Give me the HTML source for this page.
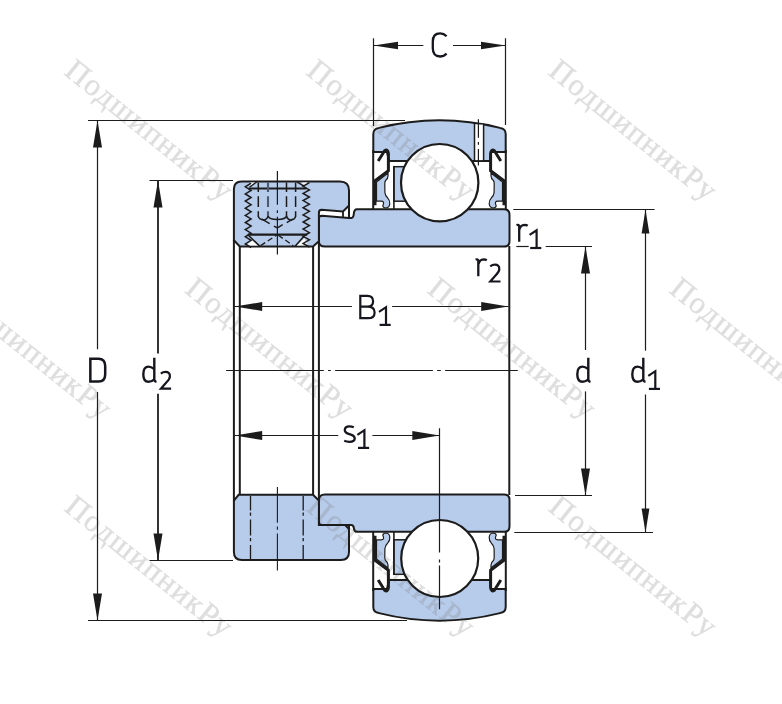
<!DOCTYPE html>
<html><head><meta charset="utf-8"><style>
html,body{margin:0;padding:0;background:#fff;width:782px;height:704px;overflow:hidden;}
svg{display:block;}

</style></head><body><svg width="782" height="704" viewBox="0 0 782 704"><defs><mask id="wmm" maskUnits="userSpaceOnUse" x="0" y="0" width="782" height="704"><rect x="0" y="0" width="782" height="704" fill="#fff"/><g id="tophalfM"><path d="M373.3,152 L373.3,134 Q373.3,128.6 379,127.9 A250,250 0 0 1 500,127.9 Q505.7,128.6 505.7,134 L505.7,152 L491,152 L490,161 L389,161 L387,152 Z" fill="#fff" stroke="#1c1c1c" stroke-width="2"/><line x1="373.2" y1="150.0" x2="373.2" y2="209.0" stroke="#1c1c1c" stroke-width="2.00" /><line x1="505.8" y1="150.0" x2="505.8" y2="209.0" stroke="#1c1c1c" stroke-width="2.00" /><path d="M376.5,182 L388,173 L388,176 Q388,178.5 385.6,180.5 Q384.7,181.5 384.8,184 L384.9,192.5 Q385.1,195.5 387.6,197.8 Q390,200.2 389.8,203.8 Q389.4,207.8 386,208 Q383,208 382.8,205.8 Q383.9,203.6 383.5,202.2 Q383,201.1 381,201.1 L376.5,201.1 Z" fill="#fff" stroke="#1c1c1c" stroke-width="1.2"/><path d="M378.2,161 L384.6,150.8 Q387.8,148.6 388.4,153.5 L388.4,170.8 L375,180.7 L375,205.3" fill="none" stroke="#1c1c1c" stroke-width="3"/><rect x="393.9" y="166.7" width="14" height="34.5" fill="#fff" stroke="#1c1c1c" stroke-width="1.5"/><line x1="393.9" y1="166.0" x2="393.9" y2="209.0" stroke="#1c1c1c" stroke-width="1.60" /><g transform="matrix(-1 0 0 1 879 0)"><path d="M376.5,182 L388,173 L388,176 Q388,178.5 385.6,180.5 Q384.7,181.5 384.8,184 L384.9,192.5 Q385.1,195.5 387.6,197.8 Q390,200.2 389.8,203.8 Q389.4,207.8 386,208 Q383,208 382.8,205.8 Q383.9,203.6 383.5,202.2 Q383,201.1 381,201.1 L376.5,201.1 Z" fill="#fff" stroke="#1c1c1c" stroke-width="1.2"/><path d="M378.2,161 L384.6,150.8 Q387.8,148.6 388.4,153.5 L388.4,170.8 L375,180.7 L375,205.3" fill="none" stroke="#1c1c1c" stroke-width="3"/></g></g><path d="M318.8,219 Q318.8,215.7 322,215.7 L349,217.9 L351.5,217.9 Q353.5,217.9 353.8,214 Q354,209.2 357,209.2 L504,209.2 Q509.5,209.2 509.5,214.7 L509.5,241 Q509.5,246.6 504,246.6 L325,246.6 Q318.8,246.6 318.8,240.4 Z" fill="#fff" stroke="#1c1c1c" stroke-width="2"/><circle cx="439.7" cy="182.7" r="38.7" fill="#fff" stroke="#1c1c1c" stroke-width="2.2"/><use href="#tophalfM" transform="matrix(1 0 0 -1 0 741)"/><path d="M318.8,500.8 Q318.8,494.6 325,494.6 L504,494.6 Q509.5,494.6 509.5,500 L509.5,526.3 Q509.5,531.8 504,531.8 L357.5,531.8 Q354.2,531.8 353.9,528.3 Q353.6,525 351,525 L322,525 Q318.8,525 318.8,521.8 Z" fill="#fff" stroke="#1c1c1c" stroke-width="2"/><circle cx="439.7" cy="558.5" r="38.5" fill="#fff" stroke="#1c1c1c" stroke-width="2.2"/><rect x="474.5" y="124.6" width="9.1" height="35.5" fill="#fff"/><path d="M474.5,123 L474.5,161 M483.6,123.5 L483.6,161" stroke="#1c1c1c" stroke-width="1.5"/><line x1="478.4" y1="119.3" x2="478.4" y2="165.4" stroke="#1c1c1c" stroke-width="1.20" stroke-dasharray="18.4,4.3,2.7,4.3,30"/><path d="M233.9,189 Q233.9,181.4 241.5,181.4 L340,181.4 Q349,181.4 349,190.5 L349,205.5 L343,211.5 L321.5,209.8 Q318.9,209.8 318.9,213 L318.9,241.3 L313,246.4 L239.8,246.4 L233.9,240.3 Z" fill="#fff" stroke="#1c1c1c" stroke-width="2"/><line x1="349.0" y1="205.5" x2="349.0" y2="218.0" stroke="#1c1c1c" stroke-width="2.00" /><line x1="343.0" y1="211.5" x2="343.0" y2="217.3" stroke="#1c1c1c" stroke-width="1.80" /><path d="M250,182.6 L256.3,182.6 L251.2,186.2 Z M301.2,182.6 L307.6,182.6 L305.3,185.8 Z" fill="#fff"/><path d="M246.2,245.6 L252.4,240.4 L258.6,245.6 Z M296.6,245.6 L304.4,238.4 L307.6,245.6 Z" fill="#fff"/><polyline points="251.1,183.2 245.3,186.8 251.1,190.4 245.3,193.9 251.1,197.5 245.3,201.1 251.1,204.7 245.3,208.2 251.1,211.8 245.3,215.4 251.1,218.9 245.3,222.5 251.1,226.1 245.3,229.6 251.1,233.2 245.3,236.8 251.1,240.3 245.3,243.9 251.1,247.5" fill="none" stroke="#1c1c1c" stroke-width="1.5" stroke-linejoin="miter"/><polyline points="309.4,182.7 303.1,186.3 309.4,189.9 303.1,193.4 309.4,197.0 303.1,200.6 309.4,204.2 303.1,207.7 309.4,211.3 303.1,214.9 309.4,218.4 303.1,222.0 309.4,225.6 303.1,229.1 309.4,232.7 303.1,236.3 309.4,239.8 303.1,243.4 309.4,247.0" fill="none" stroke="#1c1c1c" stroke-width="1.5" stroke-linejoin="miter"/><line x1="248.4" y1="188.5" x2="306.4" y2="188.5" stroke="#1c1c1c" stroke-width="2.20" /><line x1="247.8" y1="234.6" x2="307.2" y2="234.6" stroke="#1c1c1c" stroke-width="2.20" /><path d="M249.6,187.2 L256.8,181.8 M296.8,181.8 L304,186.2" fill="none" stroke="#1c1c1c" stroke-width="1.4"/><path d="M248.6,235.5 L259.7,246.2 M304.2,236 L295.1,246.2" fill="none" stroke="#1c1c1c" stroke-width="1.6"/><path d="M260.6,245.6 L276.5,235.2 M278.3,235.2 L293.2,245.6" fill="none" stroke="#1c1c1c" stroke-width="1.3" stroke-dasharray="5.5,3"/><line x1="258.3" y1="182.5" x2="258.3" y2="216.6" stroke="#1c1c1c" stroke-width="1.5" stroke-dasharray="9.5,4.2,10.7,4.3,20"/><line x1="268.0" y1="182.5" x2="268.0" y2="216.6" stroke="#4d5b70" stroke-width="2.1" stroke-dasharray="9.5,4.2,10.7,4.3,20"/><line x1="286.5" y1="182.5" x2="286.5" y2="216.6" stroke="#1c1c1c" stroke-width="1.5" stroke-dasharray="9.5,4.2,10.7,4.3,20"/><line x1="295.6" y1="182.5" x2="295.6" y2="216.6" stroke="#1c1c1c" stroke-width="1.5" stroke-dasharray="9.5,4.2,10.7,4.3,20"/><path d="M258.3,216 Q258.5,219.5 264.2,219.9 M268,216 Q267.5,219.5 263.2,220.2 M268,216 Q269,219.4 277.4,219.4 Q285.8,219.4 286.5,216 M295.6,216 Q295.4,219.5 290.6,219.9 M286.5,216 Q287.2,219.5 291.6,220.2" fill="none" stroke="#1c1c1c" stroke-width="1.5"/><path d="M262,219.2 L269.7,223.6 M292.8,219.2 L286.7,222.6" fill="none" stroke="#1c1c1c" stroke-width="1.5"/><path d="M273.9,226.1 L277.4,227.9 L282.7,224.7" fill="none" stroke="#1c1c1c" stroke-width="1.5"/><line x1="277.4" y1="171.1" x2="277.4" y2="254.6" stroke="#1c1c1c" stroke-width="1.2" stroke-dasharray="33.7,5.5,2.6,3.8,50"/><path d="M238.6,494.8 L313,494.8 L318.9,500.5 L318.9,525 L345.2,525 L349,529.2 L349,552 Q349,560 341,560 L241.9,560 Q233.9,560 233.9,552 L233.9,500.5 Z" fill="#fff" stroke="#1c1c1c" stroke-width="2"/><line x1="349.0" y1="524.0" x2="349.0" y2="530.0" stroke="#1c1c1c" stroke-width="2.00" /><line x1="250.5" y1="495.9" x2="250.5" y2="559.0" stroke="#1c1c1c" stroke-width="1.30" stroke-dasharray="14.7,1.9,3.2,3.8,16,2.5,3.2,3.8,14"/><line x1="303.2" y1="495.9" x2="303.2" y2="559.0" stroke="#1c1c1c" stroke-width="1.30" stroke-dasharray="14.7,1.9,3.2,3.8,16,2.5,3.2,3.8,14"/><line x1="277.4" y1="487.0" x2="277.4" y2="570.6" stroke="#1c1c1c" stroke-width="1.10" stroke-dasharray="35.7,3.8,3.2,3.8,40"/><line x1="233.9" y1="240.0" x2="233.9" y2="500.8" stroke="#1c1c1c" stroke-width="2.00" /><line x1="239.8" y1="246.0" x2="239.8" y2="495.0" stroke="#1c1c1c" stroke-width="2.00" /><line x1="313.1" y1="246.0" x2="313.1" y2="495.0" stroke="#1c1c1c" stroke-width="2.00" /><line x1="318.9" y1="241.0" x2="318.9" y2="500.5" stroke="#1c1c1c" stroke-width="2.00" /><line x1="509.3" y1="246.0" x2="509.3" y2="495.0" stroke="#1c1c1c" stroke-width="2.00" /><line x1="226.1" y1="370.5" x2="517.8" y2="370.5" stroke="#1c1c1c" stroke-width="1.20" stroke-dasharray="97.7,4.2,2.8,4.3,97.8,4.2,3.7,4.3,80"/><line x1="88.0" y1="120.5" x2="405.0" y2="120.5" stroke="#1c1c1c" stroke-width="1.20" /><line x1="88.0" y1="620.5" x2="407.0" y2="620.5" stroke="#1c1c1c" stroke-width="1.20" /><line x1="97.5" y1="120.5" x2="97.5" y2="349.3" stroke="#1c1c1c" stroke-width="1.20" /><line x1="97.5" y1="392.0" x2="97.5" y2="620.5" stroke="#1c1c1c" stroke-width="1.20" /><polygon points="97.5,120.5 93.0,147.5 102.0,147.5" fill="#1c1c1c"/><polygon points="97.5,620.5 93.0,593.5 102.0,593.5" fill="#1c1c1c"/><line x1="149.5" y1="180.5" x2="233.0" y2="180.5" stroke="#1c1c1c" stroke-width="1.20" /><line x1="149.5" y1="560.5" x2="233.0" y2="560.5" stroke="#1c1c1c" stroke-width="1.20" /><line x1="158.0" y1="180.5" x2="158.0" y2="353.4" stroke="#1c1c1c" stroke-width="1.80" /><line x1="158.0" y1="393.7" x2="158.0" y2="560.5" stroke="#1c1c1c" stroke-width="1.80" /><polygon points="158.0,180.5 153.5,207.5 162.5,207.5" fill="#1c1c1c"/><polygon points="158.0,560.5 153.5,533.5 162.5,533.5" fill="#1c1c1c"/><line x1="373.5" y1="38.3" x2="373.5" y2="126.0" stroke="#1c1c1c" stroke-width="1.20" /><line x1="505.5" y1="38.3" x2="505.5" y2="125.0" stroke="#1c1c1c" stroke-width="1.20" /><line x1="373.5" y1="45.5" x2="423.4" y2="45.5" stroke="#1c1c1c" stroke-width="1.20" /><line x1="453.0" y1="45.5" x2="505.5" y2="45.5" stroke="#1c1c1c" stroke-width="1.20" /><polygon points="373.5,45.5 398.0,41.7 398.0,49.3" fill="#1c1c1c"/><polygon points="505.5,45.5 481.0,41.7 481.0,49.3" fill="#1c1c1c"/><line x1="513.3" y1="209.5" x2="654.6" y2="209.5" stroke="#1c1c1c" stroke-width="1.20" /><line x1="514.3" y1="532.5" x2="653.0" y2="532.5" stroke="#1c1c1c" stroke-width="1.20" /><line x1="645.5" y1="209.5" x2="645.5" y2="350.7" stroke="#1c1c1c" stroke-width="1.20" /><line x1="645.5" y1="394.5" x2="645.5" y2="532.5" stroke="#1c1c1c" stroke-width="1.20" /><polygon points="645.5,209.5 641.6,233.5 649.4,233.5" fill="#1c1c1c"/><polygon points="645.5,532.5 641.6,508.5 649.4,508.5" fill="#1c1c1c"/><line x1="516.3" y1="246.5" x2="528.7" y2="246.5" stroke="#1c1c1c" stroke-width="1.20" /><line x1="545.7" y1="246.5" x2="592.0" y2="246.5" stroke="#1c1c1c" stroke-width="1.20" /><line x1="515.0" y1="495.5" x2="592.0" y2="495.5" stroke="#1c1c1c" stroke-width="1.20" /><line x1="585.5" y1="246.5" x2="585.5" y2="350.0" stroke="#1c1c1c" stroke-width="1.20" /><line x1="585.5" y1="391.4" x2="585.5" y2="495.5" stroke="#1c1c1c" stroke-width="1.20" /><polygon points="585.5,246.5 581.0,273.5 590.0,273.5" fill="#1c1c1c"/><polygon points="585.5,495.5 581.0,468.5 590.0,468.5" fill="#1c1c1c"/><line x1="234.5" y1="306.5" x2="351.9" y2="306.5" stroke="#1c1c1c" stroke-width="1.20" /><line x1="392.1" y1="306.5" x2="508.5" y2="306.5" stroke="#1c1c1c" stroke-width="1.20" /><polygon points="234.8,306.5 262.2,302.1 262.2,310.9" fill="#1c1c1c"/><polygon points="508.3,306.5 481.2,302.1 481.2,310.9" fill="#1c1c1c"/><line x1="234.5" y1="435.5" x2="338.3" y2="435.5" stroke="#1c1c1c" stroke-width="1.20" /><line x1="372.4" y1="435.5" x2="439.5" y2="435.5" stroke="#1c1c1c" stroke-width="1.20" /><polygon points="234.8,435.5 262.2,431.0 262.2,440.0" fill="#1c1c1c"/><polygon points="439.5,435.5 412.3,431.0 412.3,440.0" fill="#1c1c1c"/><line x1="439.5" y1="428.3" x2="439.5" y2="609.2" stroke="#1c1c1c" stroke-width="1.20" stroke-dasharray="124.3,6.9,3,3,60"/><path d="M446.6,36.2 Q443.8,33.3 440.2,33.3 Q432.8,33.3 432.8,41.5 L432.8,48.3 Q432.8,56.5 440.2,56.5 Q443.8,56.5 446.6,53.6" fill="none" stroke="#16161f" stroke-width="2.30"/><path d="M90.35,358.7 L98.5,358.7 Q105.2,358.7 105.2,366 L105.2,374.3 Q105.2,381.6 98.5,381.6 L90.35,381.6 Z" fill="none" stroke="#16161f" stroke-width="2.50"/><path d="M154.30,357.7 L154.30,379.6 Q154.30,381.5 156.50,381.9" fill="none" stroke="#16161f" stroke-width="2.40"/><path d="M154.30,369 Q150.80,366.6 148.60,366.6 Q143.30,366.6 143.30,374.2 Q143.30,381.8 148.60,381.8 Q151.30,381.8 154.30,379.3" fill="none" stroke="#16161f" stroke-width="2.40"/><path d="M160.80,373.60 Q163.00,371.90 165.50,371.90 Q169.90,371.90 169.90,376.30 Q169.90,379.10 166.50,382.30 L160.90,388.70 L171.10,388.70" fill="none" stroke="#16161f" stroke-width="2.20"/><path d="M588.30,357.7 L588.30,379.6 Q588.30,381.5 590.50,381.9" fill="none" stroke="#16161f" stroke-width="2.40"/><path d="M588.30,369 Q584.80,366.6 582.60,366.6 Q577.30,366.6 577.30,374.2 Q577.30,381.8 582.60,381.8 Q585.30,381.8 588.30,379.3" fill="none" stroke="#16161f" stroke-width="2.40"/><path d="M643.30,357.7 L643.30,379.6 Q643.30,381.5 645.50,381.9" fill="none" stroke="#16161f" stroke-width="2.40"/><path d="M643.30,369 Q639.80,366.6 637.60,366.6 Q632.30,366.6 632.30,374.2 Q632.30,381.8 637.60,381.8 Q640.30,381.8 643.30,379.3" fill="none" stroke="#16161f" stroke-width="2.40"/><path d="M648.30,375.80 L655.30,371.20 L655.30,388.90" fill="none" stroke="#16161f" stroke-width="2.20"/><path d="M648.90,388.90 L660.00,388.90" fill="none" stroke="#16161f" stroke-width="2.20"/><path d="M367.5,295.8 L360.3,295.8 L360.3,318.2 L368,318.2 Q374.6,318.2 374.6,312.4 Q374.6,306.7 367.5,306.7 L360.3,306.7 M367.5,306.7 Q373.1,306.7 373.1,301.25 Q373.1,295.8 367.5,295.8" fill="none" stroke="#16161f" stroke-width="2.20"/><path d="M379.00,311.80 L386.00,307.20 L386.00,324.90" fill="none" stroke="#16161f" stroke-width="2.20"/><path d="M379.60,324.90 L390.70,324.90" fill="none" stroke="#16161f" stroke-width="2.20"/><path d="M353.8,427.3 Q351.5,426.3 349.3,426.3 Q344.8,426.3 344.8,430 Q344.8,432.5 348,433.6 L351.5,434.8 Q354.7,436 354.7,438.5 Q354.7,441.8 349.5,441.8 Q346.5,441.8 344.2,440.8" fill="none" stroke="#16161f" stroke-width="2.30"/><path d="M357.40,434.80 L364.40,430.20 L364.40,447.90" fill="none" stroke="#16161f" stroke-width="2.20"/><path d="M358.00,447.90 L369.10,447.90" fill="none" stroke="#16161f" stroke-width="2.20"/><path d="M516.50,225.20 Q519.20,224.20 519.20,226.50 L519.20,241.70 M519.20,230.00 Q520.50,225.00 524.50,224.90 Q526.50,224.90 527.70,225.70" fill="none" stroke="#16161f" stroke-width="2.30"/><path d="M529.60,234.90 L536.60,230.30 L536.60,248.00" fill="none" stroke="#16161f" stroke-width="2.20"/><path d="M530.20,248.00 L541.30,248.00" fill="none" stroke="#16161f" stroke-width="2.20"/><path d="M475.60,259.70 Q478.30,258.70 478.30,261.00 L478.30,276.20 M478.30,264.50 Q479.60,259.50 483.60,259.40 Q485.60,259.40 486.80,260.20" fill="none" stroke="#16161f" stroke-width="2.30"/><path d="M490.20,266.40 Q492.40,264.70 494.90,264.70 Q499.30,264.70 499.30,269.10 Q499.30,271.90 495.90,275.10 L490.30,281.50 L500.50,281.50" fill="none" stroke="#16161f" stroke-width="2.20"/></mask></defs><g id="tophalf"><path d="M373.3,152 L373.3,134 Q373.3,128.6 379,127.9 A250,250 0 0 1 500,127.9 Q505.7,128.6 505.7,134 L505.7,152 L491,152 L490,161 L389,161 L387,152 Z" fill="#b7cbea" stroke="#1c1c1c" stroke-width="2"/><line x1="373.2" y1="150.0" x2="373.2" y2="209.0" stroke="#1c1c1c" stroke-width="2.00" /><line x1="505.8" y1="150.0" x2="505.8" y2="209.0" stroke="#1c1c1c" stroke-width="2.00" /><path d="M376.5,182 L388,173 L388,176 Q388,178.5 385.6,180.5 Q384.7,181.5 384.8,184 L384.9,192.5 Q385.1,195.5 387.6,197.8 Q390,200.2 389.8,203.8 Q389.4,207.8 386,208 Q383,208 382.8,205.8 Q383.9,203.6 383.5,202.2 Q383,201.1 381,201.1 L376.5,201.1 Z" fill="#b7cbea" stroke="#1c1c1c" stroke-width="1.2"/><path d="M378.2,161 L384.6,150.8 Q387.8,148.6 388.4,153.5 L388.4,170.8 L375,180.7 L375,205.3" fill="none" stroke="#1c1c1c" stroke-width="3"/><rect x="393.9" y="166.7" width="14" height="34.5" fill="#b7cbea" stroke="#1c1c1c" stroke-width="1.5"/><line x1="393.9" y1="166.0" x2="393.9" y2="209.0" stroke="#1c1c1c" stroke-width="1.60" /><g transform="matrix(-1 0 0 1 879 0)"><path d="M376.5,182 L388,173 L388,176 Q388,178.5 385.6,180.5 Q384.7,181.5 384.8,184 L384.9,192.5 Q385.1,195.5 387.6,197.8 Q390,200.2 389.8,203.8 Q389.4,207.8 386,208 Q383,208 382.8,205.8 Q383.9,203.6 383.5,202.2 Q383,201.1 381,201.1 L376.5,201.1 Z" fill="#b7cbea" stroke="#1c1c1c" stroke-width="1.2"/><path d="M378.2,161 L384.6,150.8 Q387.8,148.6 388.4,153.5 L388.4,170.8 L375,180.7 L375,205.3" fill="none" stroke="#1c1c1c" stroke-width="3"/></g></g><path d="M318.8,219 Q318.8,215.7 322,215.7 L349,217.9 L351.5,217.9 Q353.5,217.9 353.8,214 Q354,209.2 357,209.2 L504,209.2 Q509.5,209.2 509.5,214.7 L509.5,241 Q509.5,246.6 504,246.6 L325,246.6 Q318.8,246.6 318.8,240.4 Z" fill="#b7cbea" stroke="#1c1c1c" stroke-width="2"/><circle cx="439.7" cy="182.7" r="38.7" fill="#fff" stroke="#1c1c1c" stroke-width="2.2"/><use href="#tophalf" transform="matrix(1 0 0 -1 0 741)"/><path d="M318.8,500.8 Q318.8,494.6 325,494.6 L504,494.6 Q509.5,494.6 509.5,500 L509.5,526.3 Q509.5,531.8 504,531.8 L357.5,531.8 Q354.2,531.8 353.9,528.3 Q353.6,525 351,525 L322,525 Q318.8,525 318.8,521.8 Z" fill="#b7cbea" stroke="#1c1c1c" stroke-width="2"/><circle cx="439.7" cy="558.5" r="38.5" fill="#fff" stroke="#1c1c1c" stroke-width="2.2"/><rect x="474.5" y="124.6" width="9.1" height="35.5" fill="#fff"/><path d="M474.5,123 L474.5,161 M483.6,123.5 L483.6,161" stroke="#1c1c1c" stroke-width="1.5"/><line x1="478.4" y1="119.3" x2="478.4" y2="165.4" stroke="#1c1c1c" stroke-width="1.20" stroke-dasharray="18.4,4.3,2.7,4.3,30"/><path d="M233.9,189 Q233.9,181.4 241.5,181.4 L340,181.4 Q349,181.4 349,190.5 L349,205.5 L343,211.5 L321.5,209.8 Q318.9,209.8 318.9,213 L318.9,241.3 L313,246.4 L239.8,246.4 L233.9,240.3 Z" fill="#b7cbea" stroke="#1c1c1c" stroke-width="2"/><line x1="349.0" y1="205.5" x2="349.0" y2="218.0" stroke="#1c1c1c" stroke-width="2.00" /><line x1="343.0" y1="211.5" x2="343.0" y2="217.3" stroke="#1c1c1c" stroke-width="1.80" /><path d="M250,182.6 L256.3,182.6 L251.2,186.2 Z M301.2,182.6 L307.6,182.6 L305.3,185.8 Z" fill="#fff"/><path d="M246.2,245.6 L252.4,240.4 L258.6,245.6 Z M296.6,245.6 L304.4,238.4 L307.6,245.6 Z" fill="#fff"/><polyline points="251.1,183.2 245.3,186.8 251.1,190.4 245.3,193.9 251.1,197.5 245.3,201.1 251.1,204.7 245.3,208.2 251.1,211.8 245.3,215.4 251.1,218.9 245.3,222.5 251.1,226.1 245.3,229.6 251.1,233.2 245.3,236.8 251.1,240.3 245.3,243.9 251.1,247.5" fill="none" stroke="#1c1c1c" stroke-width="1.5" stroke-linejoin="miter"/><polyline points="309.4,182.7 303.1,186.3 309.4,189.9 303.1,193.4 309.4,197.0 303.1,200.6 309.4,204.2 303.1,207.7 309.4,211.3 303.1,214.9 309.4,218.4 303.1,222.0 309.4,225.6 303.1,229.1 309.4,232.7 303.1,236.3 309.4,239.8 303.1,243.4 309.4,247.0" fill="none" stroke="#1c1c1c" stroke-width="1.5" stroke-linejoin="miter"/><line x1="248.4" y1="188.5" x2="306.4" y2="188.5" stroke="#1c1c1c" stroke-width="2.20" /><line x1="247.8" y1="234.6" x2="307.2" y2="234.6" stroke="#1c1c1c" stroke-width="2.20" /><path d="M249.6,187.2 L256.8,181.8 M296.8,181.8 L304,186.2" fill="none" stroke="#1c1c1c" stroke-width="1.4"/><path d="M248.6,235.5 L259.7,246.2 M304.2,236 L295.1,246.2" fill="none" stroke="#1c1c1c" stroke-width="1.6"/><path d="M260.6,245.6 L276.5,235.2 M278.3,235.2 L293.2,245.6" fill="none" stroke="#1c1c1c" stroke-width="1.3" stroke-dasharray="5.5,3"/><line x1="258.3" y1="182.5" x2="258.3" y2="216.6" stroke="#1c1c1c" stroke-width="1.5" stroke-dasharray="9.5,4.2,10.7,4.3,20"/><line x1="268.0" y1="182.5" x2="268.0" y2="216.6" stroke="#4d5b70" stroke-width="2.1" stroke-dasharray="9.5,4.2,10.7,4.3,20"/><line x1="286.5" y1="182.5" x2="286.5" y2="216.6" stroke="#1c1c1c" stroke-width="1.5" stroke-dasharray="9.5,4.2,10.7,4.3,20"/><line x1="295.6" y1="182.5" x2="295.6" y2="216.6" stroke="#1c1c1c" stroke-width="1.5" stroke-dasharray="9.5,4.2,10.7,4.3,20"/><path d="M258.3,216 Q258.5,219.5 264.2,219.9 M268,216 Q267.5,219.5 263.2,220.2 M268,216 Q269,219.4 277.4,219.4 Q285.8,219.4 286.5,216 M295.6,216 Q295.4,219.5 290.6,219.9 M286.5,216 Q287.2,219.5 291.6,220.2" fill="none" stroke="#1c1c1c" stroke-width="1.5"/><path d="M262,219.2 L269.7,223.6 M292.8,219.2 L286.7,222.6" fill="none" stroke="#1c1c1c" stroke-width="1.5"/><path d="M273.9,226.1 L277.4,227.9 L282.7,224.7" fill="none" stroke="#1c1c1c" stroke-width="1.5"/><line x1="277.4" y1="171.1" x2="277.4" y2="254.6" stroke="#1c1c1c" stroke-width="1.2" stroke-dasharray="33.7,5.5,2.6,3.8,50"/><path d="M238.6,494.8 L313,494.8 L318.9,500.5 L318.9,525 L345.2,525 L349,529.2 L349,552 Q349,560 341,560 L241.9,560 Q233.9,560 233.9,552 L233.9,500.5 Z" fill="#b7cbea" stroke="#1c1c1c" stroke-width="2"/><line x1="349.0" y1="524.0" x2="349.0" y2="530.0" stroke="#1c1c1c" stroke-width="2.00" /><line x1="250.5" y1="495.9" x2="250.5" y2="559.0" stroke="#1c1c1c" stroke-width="1.30" stroke-dasharray="14.7,1.9,3.2,3.8,16,2.5,3.2,3.8,14"/><line x1="303.2" y1="495.9" x2="303.2" y2="559.0" stroke="#1c1c1c" stroke-width="1.30" stroke-dasharray="14.7,1.9,3.2,3.8,16,2.5,3.2,3.8,14"/><line x1="277.4" y1="487.0" x2="277.4" y2="570.6" stroke="#1c1c1c" stroke-width="1.10" stroke-dasharray="35.7,3.8,3.2,3.8,40"/><line x1="233.9" y1="240.0" x2="233.9" y2="500.8" stroke="#1c1c1c" stroke-width="2.00" /><line x1="239.8" y1="246.0" x2="239.8" y2="495.0" stroke="#1c1c1c" stroke-width="2.00" /><line x1="313.1" y1="246.0" x2="313.1" y2="495.0" stroke="#1c1c1c" stroke-width="2.00" /><line x1="318.9" y1="241.0" x2="318.9" y2="500.5" stroke="#1c1c1c" stroke-width="2.00" /><line x1="509.3" y1="246.0" x2="509.3" y2="495.0" stroke="#1c1c1c" stroke-width="2.00" /><line x1="226.1" y1="370.5" x2="517.8" y2="370.5" stroke="#1c1c1c" stroke-width="1.20" stroke-dasharray="97.7,4.2,2.8,4.3,97.8,4.2,3.7,4.3,80"/><line x1="88.0" y1="120.5" x2="405.0" y2="120.5" stroke="#1c1c1c" stroke-width="1.20" /><line x1="88.0" y1="620.5" x2="407.0" y2="620.5" stroke="#1c1c1c" stroke-width="1.20" /><line x1="97.5" y1="120.5" x2="97.5" y2="349.3" stroke="#1c1c1c" stroke-width="1.20" /><line x1="97.5" y1="392.0" x2="97.5" y2="620.5" stroke="#1c1c1c" stroke-width="1.20" /><polygon points="97.5,120.5 93.0,147.5 102.0,147.5" fill="#1c1c1c"/><polygon points="97.5,620.5 93.0,593.5 102.0,593.5" fill="#1c1c1c"/><line x1="149.5" y1="180.5" x2="233.0" y2="180.5" stroke="#1c1c1c" stroke-width="1.20" /><line x1="149.5" y1="560.5" x2="233.0" y2="560.5" stroke="#1c1c1c" stroke-width="1.20" /><line x1="158.0" y1="180.5" x2="158.0" y2="353.4" stroke="#1c1c1c" stroke-width="1.80" /><line x1="158.0" y1="393.7" x2="158.0" y2="560.5" stroke="#1c1c1c" stroke-width="1.80" /><polygon points="158.0,180.5 153.5,207.5 162.5,207.5" fill="#1c1c1c"/><polygon points="158.0,560.5 153.5,533.5 162.5,533.5" fill="#1c1c1c"/><line x1="373.5" y1="38.3" x2="373.5" y2="126.0" stroke="#1c1c1c" stroke-width="1.20" /><line x1="505.5" y1="38.3" x2="505.5" y2="125.0" stroke="#1c1c1c" stroke-width="1.20" /><line x1="373.5" y1="45.5" x2="423.4" y2="45.5" stroke="#1c1c1c" stroke-width="1.20" /><line x1="453.0" y1="45.5" x2="505.5" y2="45.5" stroke="#1c1c1c" stroke-width="1.20" /><polygon points="373.5,45.5 398.0,41.7 398.0,49.3" fill="#1c1c1c"/><polygon points="505.5,45.5 481.0,41.7 481.0,49.3" fill="#1c1c1c"/><line x1="513.3" y1="209.5" x2="654.6" y2="209.5" stroke="#1c1c1c" stroke-width="1.20" /><line x1="514.3" y1="532.5" x2="653.0" y2="532.5" stroke="#1c1c1c" stroke-width="1.20" /><line x1="645.5" y1="209.5" x2="645.5" y2="350.7" stroke="#1c1c1c" stroke-width="1.20" /><line x1="645.5" y1="394.5" x2="645.5" y2="532.5" stroke="#1c1c1c" stroke-width="1.20" /><polygon points="645.5,209.5 641.6,233.5 649.4,233.5" fill="#1c1c1c"/><polygon points="645.5,532.5 641.6,508.5 649.4,508.5" fill="#1c1c1c"/><line x1="516.3" y1="246.5" x2="528.7" y2="246.5" stroke="#1c1c1c" stroke-width="1.20" /><line x1="545.7" y1="246.5" x2="592.0" y2="246.5" stroke="#1c1c1c" stroke-width="1.20" /><line x1="515.0" y1="495.5" x2="592.0" y2="495.5" stroke="#1c1c1c" stroke-width="1.20" /><line x1="585.5" y1="246.5" x2="585.5" y2="350.0" stroke="#1c1c1c" stroke-width="1.20" /><line x1="585.5" y1="391.4" x2="585.5" y2="495.5" stroke="#1c1c1c" stroke-width="1.20" /><polygon points="585.5,246.5 581.0,273.5 590.0,273.5" fill="#1c1c1c"/><polygon points="585.5,495.5 581.0,468.5 590.0,468.5" fill="#1c1c1c"/><line x1="234.5" y1="306.5" x2="351.9" y2="306.5" stroke="#1c1c1c" stroke-width="1.20" /><line x1="392.1" y1="306.5" x2="508.5" y2="306.5" stroke="#1c1c1c" stroke-width="1.20" /><polygon points="234.8,306.5 262.2,302.1 262.2,310.9" fill="#1c1c1c"/><polygon points="508.3,306.5 481.2,302.1 481.2,310.9" fill="#1c1c1c"/><line x1="234.5" y1="435.5" x2="338.3" y2="435.5" stroke="#1c1c1c" stroke-width="1.20" /><line x1="372.4" y1="435.5" x2="439.5" y2="435.5" stroke="#1c1c1c" stroke-width="1.20" /><polygon points="234.8,435.5 262.2,431.0 262.2,440.0" fill="#1c1c1c"/><polygon points="439.5,435.5 412.3,431.0 412.3,440.0" fill="#1c1c1c"/><line x1="439.5" y1="428.3" x2="439.5" y2="609.2" stroke="#1c1c1c" stroke-width="1.20" stroke-dasharray="124.3,6.9,3,3,60"/><path d="M446.6,36.2 Q443.8,33.3 440.2,33.3 Q432.8,33.3 432.8,41.5 L432.8,48.3 Q432.8,56.5 440.2,56.5 Q443.8,56.5 446.6,53.6" fill="none" stroke="#16161f" stroke-width="2.30"/><path d="M90.35,358.7 L98.5,358.7 Q105.2,358.7 105.2,366 L105.2,374.3 Q105.2,381.6 98.5,381.6 L90.35,381.6 Z" fill="none" stroke="#16161f" stroke-width="2.50"/><path d="M154.30,357.7 L154.30,379.6 Q154.30,381.5 156.50,381.9" fill="none" stroke="#16161f" stroke-width="2.40"/><path d="M154.30,369 Q150.80,366.6 148.60,366.6 Q143.30,366.6 143.30,374.2 Q143.30,381.8 148.60,381.8 Q151.30,381.8 154.30,379.3" fill="none" stroke="#16161f" stroke-width="2.40"/><path d="M160.80,373.60 Q163.00,371.90 165.50,371.90 Q169.90,371.90 169.90,376.30 Q169.90,379.10 166.50,382.30 L160.90,388.70 L171.10,388.70" fill="none" stroke="#16161f" stroke-width="2.20"/><path d="M588.30,357.7 L588.30,379.6 Q588.30,381.5 590.50,381.9" fill="none" stroke="#16161f" stroke-width="2.40"/><path d="M588.30,369 Q584.80,366.6 582.60,366.6 Q577.30,366.6 577.30,374.2 Q577.30,381.8 582.60,381.8 Q585.30,381.8 588.30,379.3" fill="none" stroke="#16161f" stroke-width="2.40"/><path d="M643.30,357.7 L643.30,379.6 Q643.30,381.5 645.50,381.9" fill="none" stroke="#16161f" stroke-width="2.40"/><path d="M643.30,369 Q639.80,366.6 637.60,366.6 Q632.30,366.6 632.30,374.2 Q632.30,381.8 637.60,381.8 Q640.30,381.8 643.30,379.3" fill="none" stroke="#16161f" stroke-width="2.40"/><path d="M648.30,375.80 L655.30,371.20 L655.30,388.90" fill="none" stroke="#16161f" stroke-width="2.20"/><path d="M648.90,388.90 L660.00,388.90" fill="none" stroke="#16161f" stroke-width="2.20"/><path d="M367.5,295.8 L360.3,295.8 L360.3,318.2 L368,318.2 Q374.6,318.2 374.6,312.4 Q374.6,306.7 367.5,306.7 L360.3,306.7 M367.5,306.7 Q373.1,306.7 373.1,301.25 Q373.1,295.8 367.5,295.8" fill="none" stroke="#16161f" stroke-width="2.20"/><path d="M379.00,311.80 L386.00,307.20 L386.00,324.90" fill="none" stroke="#16161f" stroke-width="2.20"/><path d="M379.60,324.90 L390.70,324.90" fill="none" stroke="#16161f" stroke-width="2.20"/><path d="M353.8,427.3 Q351.5,426.3 349.3,426.3 Q344.8,426.3 344.8,430 Q344.8,432.5 348,433.6 L351.5,434.8 Q354.7,436 354.7,438.5 Q354.7,441.8 349.5,441.8 Q346.5,441.8 344.2,440.8" fill="none" stroke="#16161f" stroke-width="2.30"/><path d="M357.40,434.80 L364.40,430.20 L364.40,447.90" fill="none" stroke="#16161f" stroke-width="2.20"/><path d="M358.00,447.90 L369.10,447.90" fill="none" stroke="#16161f" stroke-width="2.20"/><path d="M516.50,225.20 Q519.20,224.20 519.20,226.50 L519.20,241.70 M519.20,230.00 Q520.50,225.00 524.50,224.90 Q526.50,224.90 527.70,225.70" fill="none" stroke="#16161f" stroke-width="2.30"/><path d="M529.60,234.90 L536.60,230.30 L536.60,248.00" fill="none" stroke="#16161f" stroke-width="2.20"/><path d="M530.20,248.00 L541.30,248.00" fill="none" stroke="#16161f" stroke-width="2.20"/><path d="M475.60,259.70 Q478.30,258.70 478.30,261.00 L478.30,276.20 M478.30,264.50 Q479.60,259.50 483.60,259.40 Q485.60,259.40 486.80,260.20" fill="none" stroke="#16161f" stroke-width="2.30"/><path d="M490.20,266.40 Q492.40,264.70 494.90,264.70 Q499.30,264.70 499.30,269.10 Q499.30,271.90 495.90,275.10 L490.30,281.50 L500.50,281.50" fill="none" stroke="#16161f" stroke-width="2.20"/><g mask="url(#wmm)"><g opacity="0.25" style="will-change:opacity"><text x="0" y="0" transform="translate(-179.2,73.7) rotate(38.8)" style="font-family:&quot;Liberation Serif&quot;,serif" font-size="31" letter-spacing="1.4" fill="#7a7a7a" stroke="#7a7a7a" stroke-width="0.45">ПодшипникРу</text><text x="0" y="0" transform="translate(62.9,73.7) rotate(38.8)" style="font-family:&quot;Liberation Serif&quot;,serif" font-size="31" letter-spacing="1.4" fill="#7a7a7a" stroke="#7a7a7a" stroke-width="0.45">ПодшипникРу</text><text x="0" y="0" transform="translate(304.9,73.7) rotate(38.8)" style="font-family:&quot;Liberation Serif&quot;,serif" font-size="31" letter-spacing="1.4" fill="#7a7a7a" stroke="#7a7a7a" stroke-width="0.45">ПодшипникРу</text><text x="0" y="0" transform="translate(546.9,73.7) rotate(38.8)" style="font-family:&quot;Liberation Serif&quot;,serif" font-size="31" letter-spacing="1.4" fill="#7a7a7a" stroke="#7a7a7a" stroke-width="0.45">ПодшипникРу</text><text x="0" y="0" transform="translate(-58.2,291.7) rotate(38.8)" style="font-family:&quot;Liberation Serif&quot;,serif" font-size="31" letter-spacing="1.4" fill="#7a7a7a" stroke="#7a7a7a" stroke-width="0.45">ПодшипникРу</text><text x="0" y="0" transform="translate(183.8,291.7) rotate(38.8)" style="font-family:&quot;Liberation Serif&quot;,serif" font-size="31" letter-spacing="1.4" fill="#7a7a7a" stroke="#7a7a7a" stroke-width="0.45">ПодшипникРу</text><text x="0" y="0" transform="translate(425.9,291.7) rotate(38.8)" style="font-family:&quot;Liberation Serif&quot;,serif" font-size="31" letter-spacing="1.4" fill="#7a7a7a" stroke="#7a7a7a" stroke-width="0.45">ПодшипникРу</text><text x="0" y="0" transform="translate(667.9,291.7) rotate(38.8)" style="font-family:&quot;Liberation Serif&quot;,serif" font-size="31" letter-spacing="1.4" fill="#7a7a7a" stroke="#7a7a7a" stroke-width="0.45">ПодшипникРу</text><text x="0" y="0" transform="translate(-179.2,509.7) rotate(38.8)" style="font-family:&quot;Liberation Serif&quot;,serif" font-size="31" letter-spacing="1.4" fill="#7a7a7a" stroke="#7a7a7a" stroke-width="0.45">ПодшипникРу</text><text x="0" y="0" transform="translate(62.9,509.7) rotate(38.8)" style="font-family:&quot;Liberation Serif&quot;,serif" font-size="31" letter-spacing="1.4" fill="#7a7a7a" stroke="#7a7a7a" stroke-width="0.45">ПодшипникРу</text><text x="0" y="0" transform="translate(304.9,509.7) rotate(38.8)" style="font-family:&quot;Liberation Serif&quot;,serif" font-size="31" letter-spacing="1.4" fill="#7a7a7a" stroke="#7a7a7a" stroke-width="0.45">ПодшипникРу</text><text x="0" y="0" transform="translate(546.9,509.7) rotate(38.8)" style="font-family:&quot;Liberation Serif&quot;,serif" font-size="31" letter-spacing="1.4" fill="#7a7a7a" stroke="#7a7a7a" stroke-width="0.45">ПодшипникРу</text></g></g></svg></body></html>
